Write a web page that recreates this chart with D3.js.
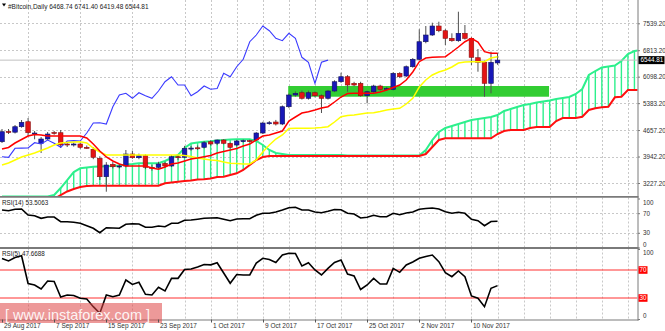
<!DOCTYPE html>
<html><head><meta charset="utf-8">
<script src="https://cdn.jsdelivr.net/npm/d3@7"></script>
<style>
html,body{margin:0;padding:0;background:#fff;}
svg{display:block;font-family:"Liberation Sans",Arial,sans-serif;}
</style></head><body>
<svg id="chart" width="665" height="331"></svg>
<script>
// Daily Bitcoin candles, 30 Aug - 14 Nov 2017
const openP  = [4342,4618,4599,4747,4882,4560,4299,4415,4591,4585,4280,4264,4280,4191,4137,3894,3397,3732,3676,3686,4010,3910,3964,3651,3651,3759,3686,3937,3921,4164,4178,4191,4342,4300,4388,4299,4253,4361,4370,4388,4577,4847,4874,4820,5287,5603,5665,5514,5665,5584,5514,5711,5962,6097,5919,5919,5584,5692,5846,5757,5757,6189,6116,6367,6567,7042,7223,7466,7339,7134,7069,7269,7134,6610,6486,5919,6468.74];
const highP  = [4685,4685,4793,4928,4982,4631,4469,4604,4631,4658,4334,4320,4330,4240,4199,3950,3790,3800,3740,4118,4100,4020,4000,3720,3800,3800,3980,3990,4230,4230,4240,4360,4380,4400,4410,4320,4390,4400,4395,4600,4880,4900,4930,5320,5640,5700,5720,5720,5700,5620,5740,6000,6205,6140,5960,5960,5720,5880,5880,5820,6220,6220,6400,6600,7377,7466,7555,7582,7380,7269,7852,7493,7160,6845,6530,6772,6741.40];
const lowP   = [4307,4550,4564,4720,4496,4407,4037,4390,4530,4172,4199,4210,4150,4150,3870,3308,2992,3620,3620,3650,3880,3870,3600,3560,3620,3640,3660,3850,3900,4100,4120,4160,4240,4250,4270,4160,4220,4320,4330,4360,4550,4800,4780,4790,5250,5560,5480,5480,5540,5117,5480,5680,5930,5692,5840,5560,5379,5660,5720,5730,5730,6060,6090,6340,6540,7000,7200,7300,6953,7040,7040,7100,6413,6232,5557,5649,6419.48];
const closeP = [4612,4599,4747,4866,4585,4577,4415,4550,4577,4253,4264,4280,4191,4185,3921,3397,3713,3667,3686,4010,3910,3964,3651,3640,3740,3686,3937,3921,4164,4170,4172,4315,4280,4388,4299,4191,4361,4370,4361,4577,4847,4855,4820,5287,5603,5649,5514,5665,5584,5514,5711,5962,6097,5873,5873,5584,5692,5846,5757,5780,6189,6097,6367,6567,7042,7223,7466,7339,7134,7069,7269,7134,6621,6486,5919,6486,6544.81];

// Ichimoku (9, 26, 52)
const tenkan = [4145,4186,4307,4402,4496,4537,4523,4496,4496,4496,4496,4496,4496,4442,4280,4091,3929,3821,3740,3686,3686,3686,3686,3632,3597,3659,3740,3767,3821,3875,3902,3937,3970,4037,4078,4118,4159,4226,4280,4388,4496,4523,4577,4631,4901,5009,5117,5152,5198,5252,5287,5414,5549,5644,5649,5649,5649,5649,5684,5738,5806,5873,6008,6224,6502,6602,6621,6629,6637,6764,6899,7042,7134,7034,6772,6729,6729];
const kijun = [3713,3767,3848,3929,3983,4037,4105,4172,4253,4307,4321,4334,4342,4307,4172,4064,3983,3983,3983,3983,3983,3983,3983,3983,3983,3983,3983,3983,3970,3943,3902,3875,3848,3835,3794,3759,3754,3740,3740,3848,4064,4253,4415,4523,4699,4704,4704,4704,4712,4726,4747,4874,5017,5050,5063,5090,5117,5125,5158,5198,5225,5244,5360,5514,5819,6008,6143,6224,6278,6359,6467,6494,6502,6502,6502,6602,6637];
const senkouA = [2863,2863,2863,2863,2863,2863,2863,2863,2903,3092,3308,3524,3624,3646,3667,3673,3678,3686,3700,3727,3740,3759,3759,3759,3759,3821,3902,3983,4172,4294,4321,4342,4353,4375,4388,4402,4407,4407,4407,4361,4253,4118,4037,4010,3983,3983,3983,3983,3983,3983,3983,3983,3983,3970,3970,3970,3970,3970,3970,3970,3970,3970,3970,3970,3970,4118,4388,4604,4712,4766,4820,4874,4928,4955,4982,5009,5063,5171,5225,5279,5333,5360,5401,5428,5455,5495,5522,5549,5630,5765,6143,6251,6346,6373,6400,6521,6710,6791,6818];
const senkouB = [2768,2768,2768,2768,2768,2768,2768,2768,2795,2903,2998,3065,3119,3146,3154,3154,3154,3154,3154,3154,3154,3154,3154,3154,3154,3219,3241,3262,3281,3295,3322,3327,3349,3389,3398,3443,3489,3578,3713,3848,3929,3956,3956,3956,3956,3956,3956,3956,3956,3956,3956,3956,3956,3956,3956,3956,3956,3956,3956,3956,3956,3956,3956,3956,3956,4010,4199,4388,4434,4434,4434,4434,4434,4434,4434,4434,4550,4631,4658,4658,4658,4712,4739,4739,4739,4901,4982,4982,4982,5017,5198,5244,5271,5287,5541,5557,5738,5738,5738];
const chikouShift = 26;

const rsi14 = [76.5,75.1,78,78.6,66.3,64.9,59.6,62.2,62.2,52.7,52.7,51.4,49.4,44.5,39.2,30.2,40.4,39.8,39.2,47.3,48.6,48,41.2,41.2,43.9,42.4,49.4,49.4,55.5,56.1,57.8,59.6,60.2,60.8,57.6,54.7,58.2,58.6,58.8,65.7,69.8,69.8,72.4,76.5,81.2,82,76.5,76.5,72.4,71,73.9,77.6,77.1,69.8,68.4,60.2,61.6,65.7,62.9,62.9,69.8,66.9,70.4,72.4,78,79.6,80.6,78.6,73.1,69.8,71.8,69.8,57.6,54.7,44.5,53.0,53.5063];
const rsi5 = [86.4,82.9,87.9,90.4,50.7,48.6,42.9,54.3,53.6,31.4,34.3,33.6,29.6,28.6,17.6,8.1,34.3,31.9,34.3,55.7,49.3,52.4,35.3,34.3,45.3,40,58.1,58.1,70.7,71.4,74.3,77.9,77.4,80.4,65.7,51,63.6,62.9,62.9,80,86.7,85,80.7,91.4,93.9,93.6,75.7,80.4,70,62.9,72.4,80.7,84.3,64.3,61.4,42.1,48.6,58.1,50,50,72.4,66.7,77.1,81.4,86.7,89.3,91.4,81.9,66.1,60.4,68.6,60.4,32.9,29.6,17.6,43.9,47.6688];
const rsiLevels = [70, 30];
const rsiTicks = [100, 70, 30, 0];

// marked support zone
const zoneBars = [43.9, 83.9];
const zonePrices = [5557, 5846];

const priceTicks = [7539.20, 6813.20, 6098.20, 5383.20, 4657.20, 3942.20, 3227.20];
const dateTickLabels = ["29 Aug 2017","7 Sep 2017","15 Sep 2017","23 Sep 2017","1 Oct 2017","9 Oct 2017","17 Oct 2017","25 Oct 2017","2 Nov 2017","10 Nov 2017"];
const dateTickBars = [0,8,16,24,32,40,48,56,64,72];
const gridBars = [4,12,20,28].concat(d3.range(32, 98, 4));

const symbolTitle = "#Bitcoin,Daily";
const rsi14Title = "RSI(14)";
const rsi5Title = "RSI(5)";

// ---- layout ----
const W = 665, H = 331, plotR = 637.5;
const mainP = {top: 0, bottom: 196};
const r14P = {top: 197.5, bottom: 247.5};
const r5P = {top: 248.5, bottom: 319.5};
const FONT = "Liberation Sans,Arial,sans-serif";

const svg = d3.select("#chart");
const x = d3.scaleLinear().domain([0, 97.5]).range([2, 637.7]);
const y = d3.scaleLinear().domain([3227.2, 7539.2]).range([183, 23.3]);
const yR14 = d3.scaleLinear().domain([0, 100]).range([247.5, 198.5]);
const yR5 = d3.scaleLinear().domain([0, 100]).range([319, 249]);

const defs = svg.append("defs");
function clip(id, p) {
  defs.append("clipPath").attr("id", id).append("rect")
    .attr("x", 0).attr("y", p.top).attr("width", plotR).attr("height", p.bottom - p.top);
}
clip("cMain", mainP); clip("cR14", r14P); clip("cR5", r5P);

const fmt2 = d3.format(".2f");
const gridCol = "#c8c8c8";

// ---- grid ----
const grid = svg.append("g").attr("stroke", gridCol).attr("stroke-width", 1).attr("stroke-dasharray", "2,2");
[mainP, r14P, r5P].forEach(p => {
  grid.selectAll(null).data(gridBars).join("line")
    .attr("x1", d => Math.round(x(d)) + 0.5).attr("x2", d => Math.round(x(d)) + 0.5)
    .attr("y1", p.top).attr("y2", p.bottom);
});
grid.selectAll(null).data(priceTicks).join("line")
  .attr("x1", 0).attr("x2", plotR)
  .attr("y1", d => Math.round(y(d)) + 0.5).attr("y2", d => Math.round(y(d)) + 0.5);
grid.selectAll(null).data(rsiLevels).join("line")
  .attr("x1", 0).attr("x2", plotR)
  .attr("y1", d => Math.round(yR14(d)) + 0.5).attr("y2", d => Math.round(yR14(d)) + 0.5);

// ---- main panel ----
const gMain = svg.append("g").attr("clip-path", "url(#cMain)");

// support zone
gMain.append("rect")
  .attr("x", x(zoneBars[0])).attr("width", x(zoneBars[1]) - x(zoneBars[0]))
  .attr("y", y(zonePrices[1])).attr("height", y(zonePrices[0]) - y(zonePrices[1]))
  .attr("fill", "#32cd32");

// cloud hatching
const cloudIdx = d3.range(senkouA.length);
gMain.append("g").selectAll("line").data(cloudIdx).join("line")
  .attr("x1", i => x(i)).attr("x2", i => x(i))
  .attr("y1", i => y(senkouA[i])).attr("y2", i => y(senkouB[i]))
  .attr("stroke", i => senkouA[i] >= senkouB[i] ? "#2cf08c" : "#ff3030")
  .attr("stroke-width", 1.4);

const lineOf = (arr, sc, off = 0) => d3.line().x((d, i) => x(i + off)).y(d => sc(d))(arr);

gMain.append("path").attr("d", lineOf(senkouA, y)).attr("fill", "none").attr("stroke", "#2cf08c").attr("stroke-width", 2);
gMain.append("path").attr("d", lineOf(senkouB, y)).attr("fill", "none").attr("stroke", "#ff1010").attr("stroke-width", 2);

// last price line
gMain.append("line").attr("x1", 0).attr("x2", plotR)
  .attr("y1", y(closeP[closeP.length - 1])).attr("y2", y(closeP[closeP.length - 1]))
  .attr("stroke", "#c0c0c0").attr("stroke-width", 1);

// candles
const bars = d3.range(openP.length);
const bw = 4.6;
const cg = gMain.append("g");
cg.selectAll("line").data(bars).join("line")
  .attr("x1", i => x(i)).attr("x2", i => x(i))
  .attr("y1", i => y(highP[i])).attr("y2", i => y(lowP[i]))
  .attr("stroke", "#505050").attr("stroke-width", 1);
cg.selectAll("rect").data(bars).join("rect")
  .attr("x", i => x(i) - bw / 2).attr("width", bw)
  .attr("y", i => y(Math.max(openP[i], closeP[i])))
  .attr("height", i => Math.max(1, Math.abs(y(openP[i]) - y(closeP[i]))))
  .attr("fill", i => closeP[i] >= openP[i] ? "#1818b8" : "#e41414")
  .attr("stroke", i => closeP[i] >= openP[i] ? "#14145a" : "#8a1212")
  .attr("stroke-width", 0.6);

// tenkan / kijun / chikou
gMain.append("path").attr("d", lineOf(closeP.slice(chikouShift), y)).attr("fill", "none").attr("stroke", "#3a3aff").attr("stroke-width", 1.1);
gMain.append("path").attr("d", lineOf(kijun, y)).attr("fill", "none").attr("stroke", "#ffff00").attr("stroke-width", 1.5);
gMain.append("path").attr("d", lineOf(tenkan, y)).attr("fill", "none").attr("stroke", "#ff0000").attr("stroke-width", 1.5);

// ---- RSI(14) ----
const g14 = svg.append("g").attr("clip-path", "url(#cR14)");
g14.append("path").attr("d", lineOf(rsi14, yR14)).attr("fill", "none").attr("stroke", "#000").attr("stroke-width", 1.6);

// ---- RSI(5) ----
const g5 = svg.append("g").attr("clip-path", "url(#cR5)");
g5.selectAll("line").data(rsiLevels).join("line")
  .attr("x1", 0).attr("x2", plotR).attr("y1", d => yR5(d)).attr("y2", d => yR5(d))
  .attr("stroke", "#ff3030").attr("stroke-width", 1);
g5.append("path").attr("d", lineOf(rsi5, yR5)).attr("fill", "none").attr("stroke", "#000").attr("stroke-width", 1.6);

// ---- frames ----
const frame = svg.append("g").attr("stroke", "#7a7a7a").attr("fill", "none");
frame.append("line").attr("x1", plotR + 0.5).attr("x2", plotR + 0.5).attr("y1", 0).attr("y2", r5P.bottom + 1);
frame.append("line").attr("x1", 0).attr("x2", plotR + 1).attr("y1", mainP.bottom + 0.8).attr("y2", mainP.bottom + 0.8).attr("stroke-width", 1.8);
frame.append("line").attr("x1", 0).attr("x2", plotR + 1).attr("y1", r14P.bottom + 0.5).attr("y2", r14P.bottom + 0.5).attr("stroke-width", 1.8);
frame.append("line").attr("x1", 0).attr("x2", plotR + 1).attr("y1", r5P.bottom + 0.5).attr("y2", r5P.bottom + 0.5).attr("stroke-width", 1.2);

// ---- right axes ----
const axFill = "#303030", axSize = "6.3px";
const yAxis = d3.axisRight(y).tickValues(priceTicks).tickFormat(fmt2).tickSize(2).tickPadding(3);
const ga = svg.append("g").attr("transform", `translate(${plotR + 0.5},0)`).call(yAxis);
ga.select(".domain").remove();
ga.selectAll("line").attr("stroke", "#7a7a7a");
ga.selectAll("text").attr("font-size", axSize).attr("fill", axFill).attr("font-family", FONT);

// RSI scales: the extreme labels sit just inside their panel
function rsiAxis(sc, ticks) {
  const g = svg.append("g").attr("transform", `translate(${plotR + 0.5},0)`)
    .call(d3.axisRight(sc).tickValues(ticks).tickSize(2).tickPadding(3));
  g.select(".domain").remove();
  g.selectAll("line").attr("stroke", "#7a7a7a");
  g.selectAll("text").attr("font-size", axSize).attr("fill", axFill).attr("font-family", FONT)
    .attr("dy", d => d === 100 ? "0.9em" : (d === 0 ? "-0.2em" : "0.32em"));
  return g;
}
rsiAxis(yR14, rsiTicks);
rsiAxis(yR5, [100, 0]);

// red level badges
const lv = svg.append("g").selectAll("g").data(rsiLevels).join("g")
  .attr("transform", d => `translate(${plotR + 1},${yR5(d)})`);
lv.append("rect").attr("x", 0).attr("y", -3.8).attr("width", 9).attr("height", 7.6).attr("fill", "#ff0000");
lv.append("text").attr("x", 1).attr("y", 2.3).attr("font-size", axSize).attr("fill", "#fff").text(d => d);

// last price badge
const lp = closeP[closeP.length - 1];
const lpg = svg.append("g").attr("transform", `translate(${plotR + 1},${y(lp)})`);
lpg.append("rect").attr("x", 0).attr("y", -4).attr("width", 26).attr("height", 8).attr("fill", "#000");
lpg.append("text").attr("x", 2).attr("y", 2.3).attr("font-size", axSize).attr("fill", "#fff").text(fmt2(lp));

// ---- watermark ----
const wm = svg.append("g");
wm.append("rect").attr("x", 0).attr("y", 303).attr("width", 162).attr("height", 20)
  .attr("fill", "rgba(222,70,70,0.55)");
wm.append("text").attr("x", 5).attr("y", 319.5).attr("font-size", "14.5px").attr("fill", "rgba(255,255,255,0.9)")
  .attr("font-family", FONT)
  .text("[ www.instaforex.com ]");

// ---- date axis ----
const dg = svg.append("g").selectAll("g").data(dateTickBars).join("g")
  .attr("transform", d => `translate(${Math.round(x(d)) + 0.5},${r5P.bottom})`);
dg.append("line").attr("y1", 0).attr("y2", 3).attr("stroke", "#555");
dg.append("text").attr("x", 1.5).attr("y", 8.5).attr("font-size", "6.5px").attr("fill", "#333")
  .text((d, i) => dateTickLabels[i]);

// ---- titles ----
svg.append("path").attr("d", "M2,3.5 L6,3.5 L4,6.5 Z").attr("fill", "#000");
const last = openP.length - 1;
svg.append("text").attr("x", 8).attr("y", 8.5).attr("font-size", "6.5px").attr("fill", "#222")
  .text(`${symbolTitle}  ${fmt2(openP[last])} ${fmt2(highP[last])} ${fmt2(lowP[last])} ${fmt2(closeP[last])}`);
svg.append("text").attr("x", 2).attr("y", r14P.top + 7).attr("font-size", axSize).attr("fill", "#222")
  .text(`${rsi14Title} ${d3.format(".4f")(rsi14[rsi14.length - 1])}`);
svg.append("text").attr("x", 2).attr("y", r5P.top + 7).attr("font-size", axSize).attr("fill", "#222")
  .text(`${rsi5Title} ${d3.format(".4f")(rsi5[rsi5.length - 1])}`);
</script>
</body></html>
